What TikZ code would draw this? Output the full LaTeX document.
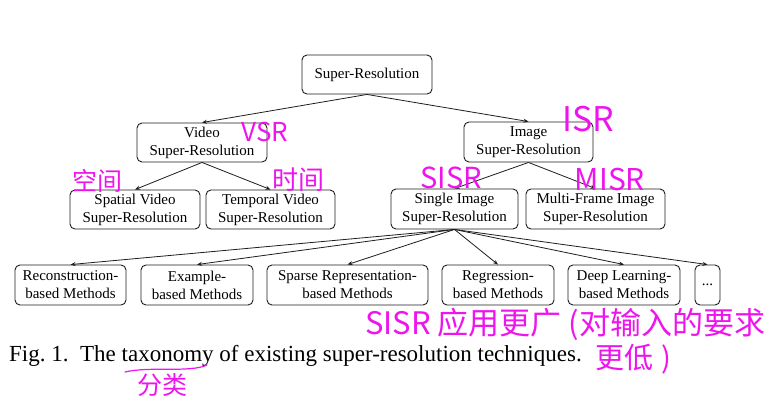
\documentclass[tikz,border=0pt]{standalone}
\usepackage{fontspec}
\setmainfont{Liberation Serif}
\newfontfamily\cjk{Noto Sans CJK SC}
\usetikzlibrary{arrows.meta}
\definecolor{pen}{RGB}{238,20,238}
\definecolor{ink}{RGB}{30,30,30}
\tikzset{
  box/.style={draw=ink, line width=0.9pt, rounded corners=5pt, inner sep=0pt,
    minimum height=39pt, align=center, font=\fontsize{15}{18}\selectfont, text=black},
  conn/.style={draw=ink, line width=0.8pt, -{Stealth[length=5pt,width=4pt]}},
  annot/.style={text=pen, inner sep=0pt, font=\cjk},
}
\begin{document}
\begin{tikzpicture}[x=1pt, y=-1pt]
\useasboundingbox[fill=white] (0,0) rectangle (784,413);
% boxes
\node[box, minimum width=130pt] (sr) at (367,74.5) {Super-Resolution};
\node[box, minimum width=130pt] (video) at (202,142.5) {Video\\Super-Resolution};
\node[box, minimum width=129pt, minimum height=40pt] (image) at (528.5,142) {Image\\Super-Resolution};
\node[box, minimum width=130pt] (spatial) at (135,209.5) {Spatial Video\\Super-Resolution};
\node[box, minimum width=129pt] (temporal) at (270.5,209.5) {Temporal Video\\Super-Resolution};
\node[box, minimum width=127pt, minimum height=40pt] (single) at (454.5,209) {Single Image\\Super-Resolution};
\node[box, minimum width=139pt, minimum height=40pt] (multi) at (595.5,209) {Multi-Frame Image\\Super-Resolution};
\node[box, minimum width=111pt, minimum height=40pt] (recon) at (70.5,285) {Reconstruction-\\based Methods};
\node[box, minimum width=112pt, minimum height=40pt] (example) at (197,285) {Example-\\based Methods};
\node[box, minimum width=161pt, minimum height=40pt] (sparse) at (347.5,285) {Sparse Representation-\\based Methods};
\node[box, minimum width=112pt, minimum height=40pt] (regr) at (498,285) {Regression-\\based Methods};
\node[box, minimum width=112pt, minimum height=40pt] (deep) at (624,285) {Deep Learning-\\based Methods};
\node[box, minimum width=25pt, minimum height=40pt] (dots) at (707.5,285) {...};
% connectors
\draw[conn] (sr.south) -- (video.north);
\draw[conn] (sr.south) -- (image.north);
\draw[conn] (video.south) -- (spatial.north);
\draw[conn] (video.south) -- (temporal.north);
\draw[conn] (image.south) -- (single.north);
\draw[conn] (image.south) -- (multi.north);
\draw[conn] (single.south) -- (recon.north);
\draw[conn] (single.south) -- (example.north);
\draw[conn] (single.south) -- (sparse.north);
\draw[conn] (single.south) -- (regr.north);
\draw[conn] (single.south) -- (deep.north);
\draw[conn] (single.south) -- (dots.north);
% caption
\node[anchor=base west, inner sep=0pt, font=\fontsize{23}{27}\selectfont] (cap) at (9,361)
  {Fig.~1.\hspace{0.5em}The taxonomy of existing super-resolution techniques.};
% handwritten annotations
\node[annot, font=\cjk\fontsize{26}{30}\selectfont] (vsr) at (265,132) {VSR};
\node[annot, font=\cjk\fontsize{34}{40}\selectfont] (isr) at (588,119) {ISR};
\node[annot, font=\cjk\fontsize{29}{34}\selectfont] (sisr) at (451,178) {SISR};
\node[annot, anchor=base, font=\cjk\fontsize{30}{36}\selectfont] (misr) at (610,190) {MISR};
\node[annot, font=\cjk\fontsize{25}{30}\selectfont] (kj) at (97,181) {空间};
\node[annot, font=\cjk\fontsize{26}{30}\selectfont] (sj) at (298,180) {时间};
\node[annot, anchor=base west, font=\cjk\fontsize{31}{36}\selectfont] (note1) at (365,334) {SISR 应用更广 (对输入的要求};
\node[annot, anchor=base west, font=\cjk\fontsize{29}{34}\selectfont] (note2) at (595,368) {更低\hspace{0.3em})};
\node[annot, anchor=base west, font=\cjk\fontsize{25}{30}\selectfont] (fl) at (137,394) {分类};
\draw[pen, line width=1.2pt, line cap=round] (125,372) .. controls (150,366) and (190,373) .. (207,365);
\end{tikzpicture}
\end{document}
